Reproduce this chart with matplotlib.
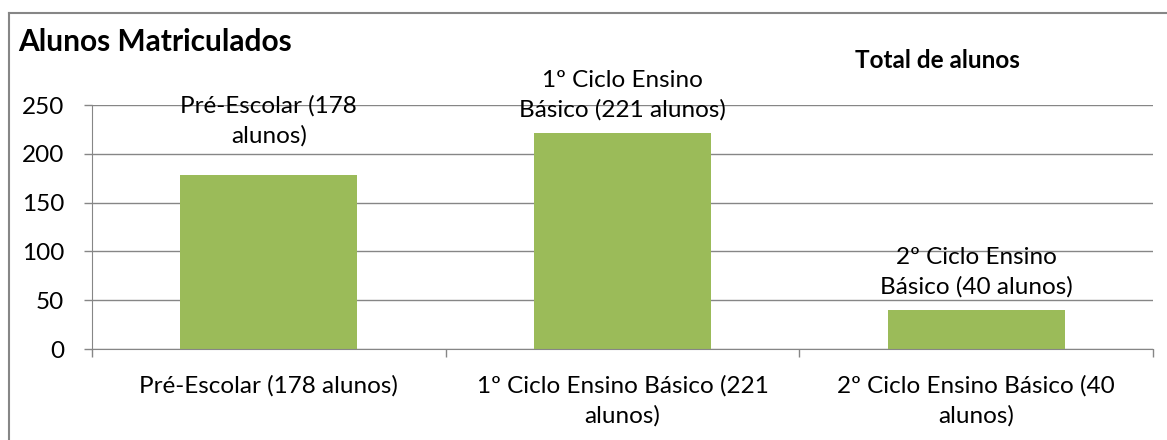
import matplotlib.pyplot as plt
from matplotlib.lines import Line2D

# data
categories = ['Pré-Escolar (178 alunos)', '1º Ciclo Ensino Básico (221\nalunos)',
              '2º Ciclo Ensino Básico (40\nalunos)']
bar_labels = ['Pré-Escolar (178\nalunos)', '1º Ciclo Ensino\nBásico (221 alunos)',
              '2º Ciclo Ensino\nBásico (40 alunos)']
values = [178, 221, 40]
y_ticks = [0, 50, 100, 150, 200, 250]

# label offsets above the bars (points); first one sits higher as in the original
label_offsets = [21, 9, 9]

plt.rcParams['font.family'] = ['Lato', 'DejaVu Sans']
plt.rcParams['font.size'] = 17.5
grey = '#868686'

fig = plt.figure(figsize=(11.67, 4.4), dpi=100)
ax = fig.add_axes([92 / 1167, 1 - 349 / 440, (1153 - 92) / 1167, (349 - 105) / 440])

x = list(range(len(values)))
ax.bar(x, values, width=0.5, color='#9BBB59', zorder=3)

for xi, v, lab, off in zip(x, values, bar_labels, label_offsets):
    ax.annotate(lab, (xi, v), xytext=(0, off), textcoords='offset points',
                ha='center', va='bottom', fontsize=17.5, linespacing=1.45, zorder=4)

ax.set_xlim(-0.5, 2.5)
ax.set_ylim(0, 250)
ax.set_yticks(y_ticks)
ax.grid(axis='y', color=grey, linewidth=1, zorder=0)

# category labels at centres, tick marks on the boundaries
ax.set_xticks(x)
ax.set_xticklabels(categories, linespacing=1.45)
ax.set_xticks([-0.5, 0.5, 1.5, 2.5], minor=True)
ax.tick_params(axis='x', which='major', length=0, pad=19)
ax.tick_params(axis='x', which='minor', length=6, color=grey, width=1)
ax.tick_params(axis='y', length=6, color=grey, width=1, pad=14)

for s in ['top', 'right']:
    ax.spines[s].set_visible(False)
for s in ['left', 'bottom']:
    ax.spines[s].set_color(grey)
    ax.spines[s].set_zorder(5)

fig.text(18 / 1167, 1 - 42 / 440, 'Alunos Matriculados', fontsize=21.5, fontweight='bold',
         ha='left', va='center')
fig.text(937 / 1167, 1 - 61 / 440, 'Total de alunos', fontsize=17.5, fontweight='bold',
         ha='center', va='center')

# chart frame (left and top edge)
fig.add_artist(Line2D([8.5 / 1167, 8.5 / 1167], [0, 1 - 13 / 440], color=grey, linewidth=1.5))
fig.add_artist(Line2D([8.5 / 1167, 1], [1 - 13 / 440, 1 - 13 / 440], color=grey, linewidth=1.5))

fig.savefig('out.png', dpi=100)
